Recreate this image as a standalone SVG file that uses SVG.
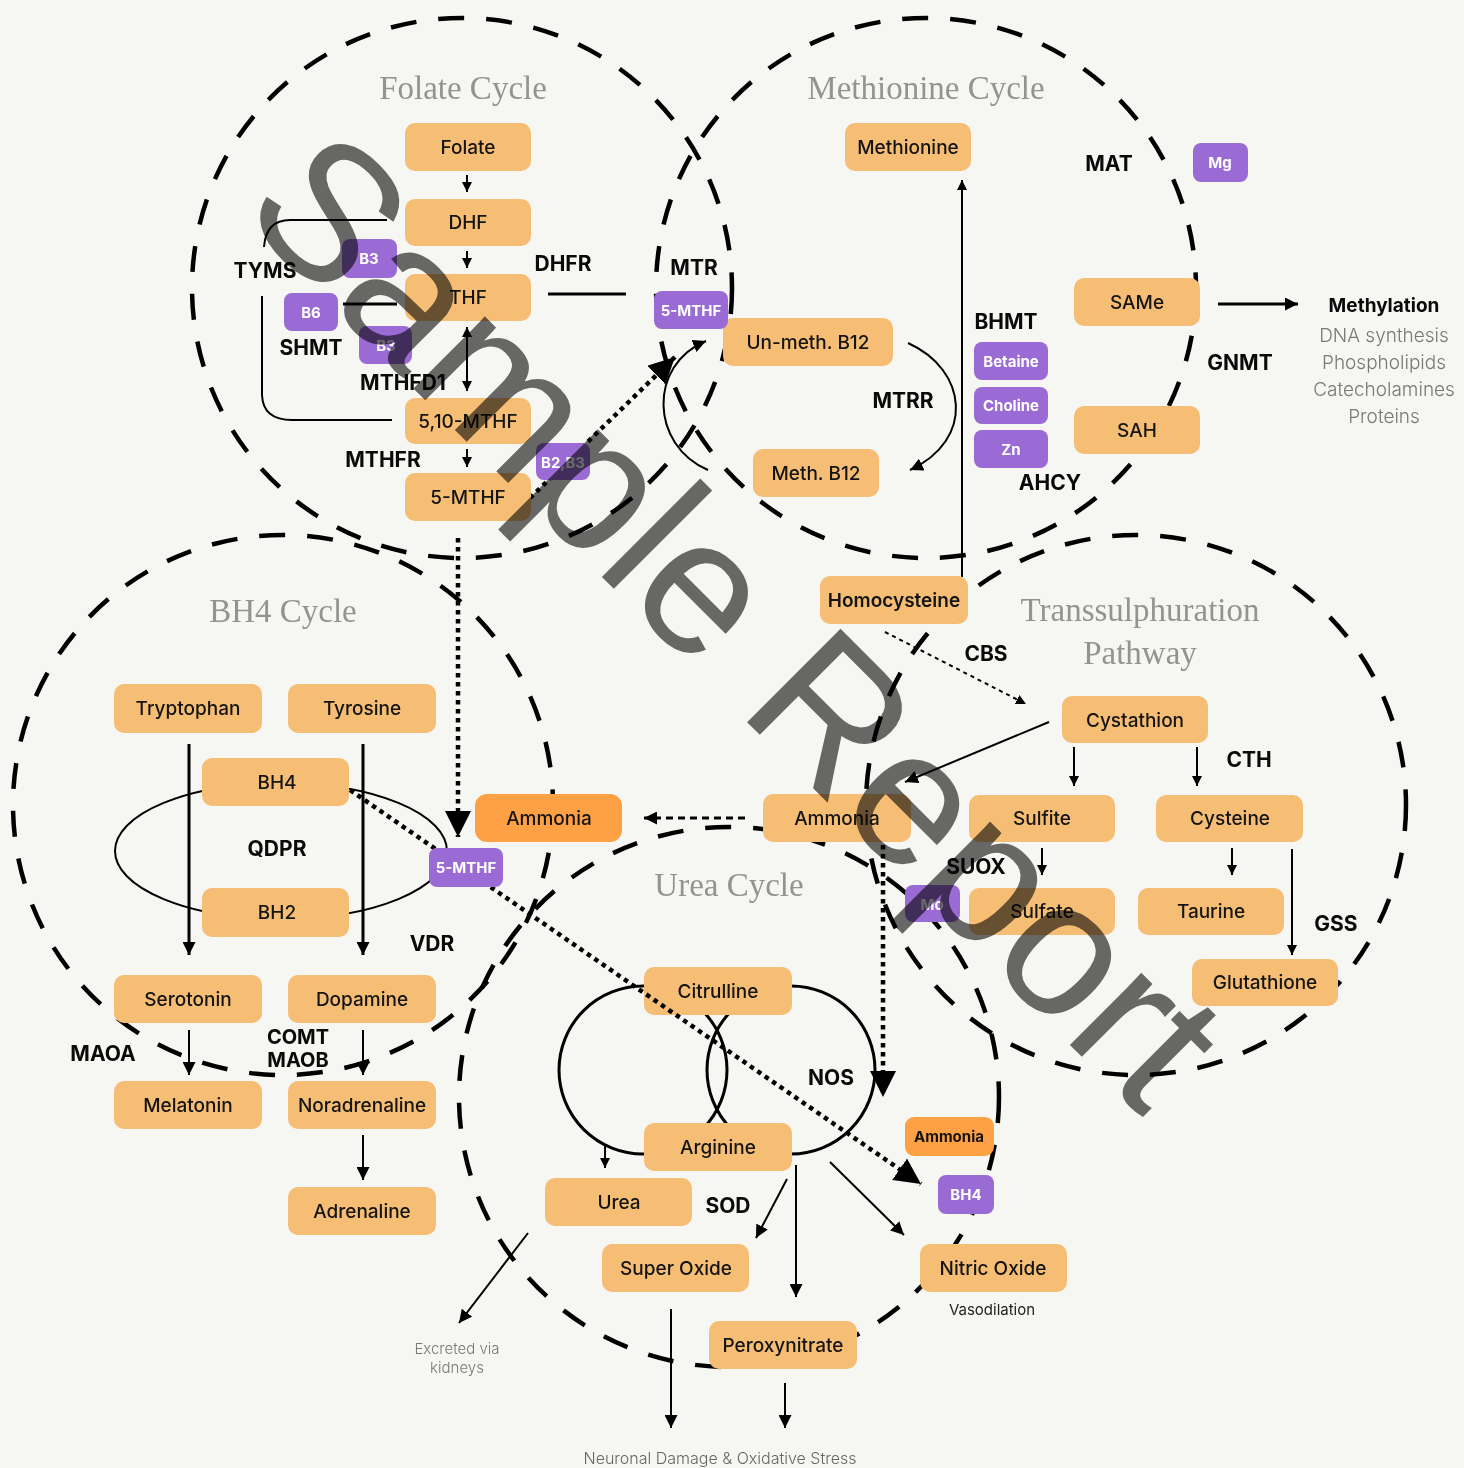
<svg xmlns="http://www.w3.org/2000/svg" width="1464" height="1468" viewBox="0 0 1464 1468">
<defs>
<style>
.cyc{fill:none;stroke:#000;stroke-width:4.5;stroke-dasharray:26 22}
.ttl{font-family:"Liberation Serif",serif;font-size:33px;fill:#939393;text-anchor:middle}
.n rect{fill:#f6be74}
.d rect{fill:#fea044}
.p rect{fill:#9a6bd5}
.n text,.d text{font-family:Inter,"Liberation Sans",sans-serif;font-size:19px;font-weight:500;fill:#141414;text-anchor:middle;dominant-baseline:central}
.p text{font-family:Inter,"Liberation Sans",sans-serif;font-size:15px;font-weight:700;fill:#fff;text-anchor:middle;dominant-baseline:central}
.enz{font-family:Inter,"Liberation Sans",sans-serif;font-size:21px;font-weight:700;fill:#0a0a0a;text-anchor:middle;dominant-baseline:central}
.note{font-family:Inter,"Liberation Sans",sans-serif;font-weight:300;fill:#787878;text-anchor:middle;dominant-baseline:central}
.ln{fill:none;stroke:#000;stroke-width:2}
.ln3{fill:none;stroke:#000;stroke-width:3}
.dot{fill:none;stroke:#000;stroke-width:4.5;stroke-dasharray:4.5 4.5}
</style>
<marker id="ah" viewBox="0 0 10 10" refX="10" refY="5" markerWidth="10" markerHeight="10" markerUnits="userSpaceOnUse" orient="auto-start-reverse"><path d="M0,0 L10,5 L0,10 z"/></marker>
<marker id="ahm" viewBox="0 0 10 10" refX="10" refY="5" markerWidth="13" markerHeight="13" markerUnits="userSpaceOnUse" orient="auto-start-reverse"><path d="M0,0 L10,5 L0,10 z"/></marker>
<marker id="big" viewBox="0 0 10 10" refX="10" refY="5" markerWidth="26" markerHeight="26" markerUnits="userSpaceOnUse" orient="auto"><path d="M0,0 L10,5 L0,10 z"/></marker>
</defs>
<rect width="1464" height="1468" fill="#f6f6f2"/>

<g id="cycles">
<circle class="cyc" cx="462" cy="288" r="270"/>
<circle class="cyc" cx="926" cy="288" r="270"/>
<circle class="cyc" cx="283" cy="805" r="270"/>
<circle class="cyc" cx="1136" cy="805" r="270"/>
<circle class="cyc" cx="729" cy="1097" r="270"/>
<text class="ttl" x="463" y="99">Folate Cycle</text>
<text class="ttl" x="926" y="99">Methionine Cycle</text>
<text class="ttl" x="283" y="622">BH4 Cycle</text>
<text class="ttl" x="1140" y="621">Transsulphuration</text>
<text class="ttl" x="1140" y="664">Pathway</text>
<text class="ttl" x="729" y="896">Urea Cycle</text>
</g>

<g id="connectors">
<path class="ln" d="M467,175 V192" marker-end="url(#ah)"/>
<path class="ln" d="M467,251 V268" marker-end="url(#ah)"/>
<path class="ln" d="M467,327 V391" marker-start="url(#ah)" marker-end="url(#ah)"/>
<path class="ln" d="M467,449 V467" marker-end="url(#ah)"/>
<path class="ln" d="M387,220 H290 Q266,220 264,247" stroke-width="2.5"/>
<path class="ln" d="M262,296 V395 Q263,420 292,420 H392" stroke-width="2.5"/>
<path class="ln3" d="M343,304 H397"/>
<path class="ln3" d="M548,294 H626"/>
<path class="dot" d="M530,498 L675,357" marker-end="url(#big)"/>
<path class="ln" d="M708,470 C650,445 648,365 706,341" marker-end="url(#ahm)"/>
<path class="ln" d="M908,343 C968,370 975,440 910,470" marker-end="url(#ahm)"/>
<path class="ln" d="M962,577 V180" marker-end="url(#ah)"/>
<path class="ln3" d="M1218,304 H1298" marker-end="url(#ahm)"/>
<path class="dot" d="M458,538 V837" marker-end="url(#big)"/>
<path class="ln3" d="M745,818 H644" stroke-dasharray="7 5" marker-end="url(#ahm)"/>
<path class="dot" d="M883,845 V1097" marker-end="url(#big)"/>
<path class="ln" d="M885,632 L1026,704" stroke-dasharray="4 4" marker-end="url(#ah)"/>
<path class="ln" d="M1049,722 L905,782" marker-end="url(#ahm)"/>
<path class="ln" d="M1074,747 V786" marker-end="url(#ah)"/>
<path class="ln" d="M1197,747 V786" marker-end="url(#ah)"/>
<path class="ln" d="M1042,848 V875" marker-end="url(#ah)"/>
<path class="ln" d="M1232,848 V875" marker-end="url(#ah)"/>
<path class="ln" d="M1292,849 V955" marker-end="url(#ah)"/>
<ellipse class="ln" cx="281" cy="851" rx="166" ry="68" stroke-width="2.5"/>
<path class="ln3" d="M189,744 V955" marker-end="url(#ahm)"/>
<path class="ln3" d="M363,744 V955" marker-end="url(#ahm)"/>
<path class="ln" d="M189,1030 V1075" marker-end="url(#ahm)"/>
<path class="ln" d="M363,1030 V1075" marker-end="url(#ahm)"/>
<path class="ln" d="M363,1135 V1180" marker-end="url(#ahm)"/>
<circle class="ln3" cx="643" cy="1070" r="84"/>
<circle class="ln3" cx="791" cy="1070" r="84"/>
<path class="ln" d="M605,1145 V1168" marker-end="url(#ah)"/>
<path class="ln" d="M787,1179 L756,1238" marker-end="url(#ahm)"/>
<path class="ln" d="M796,1165 V1297" marker-end="url(#ahm)"/>
<path class="ln" d="M830,1162 L904,1235" marker-end="url(#ahm)"/>
<path class="ln" d="M528,1233 L459,1323" marker-end="url(#ahm)"/>
<path class="ln" d="M671,1309 V1428" marker-end="url(#ahm)"/>
<path class="ln" d="M785,1383 V1428" marker-end="url(#ahm)"/>
</g>

<g id="folate" class="n"><rect x="405" y="123" width="126" height="48" rx="10"/><text x="468" y="147">Folate</text></g>
<g id="dhf" class="n"><rect x="405" y="199" width="126" height="47" rx="10"/><text x="468" y="222">DHF</text></g>
<g id="thf" class="n"><rect x="405" y="274" width="126" height="47" rx="10"/><text x="468" y="297">THF</text></g>
<g id="mthf510" class="n"><rect x="405" y="398" width="126" height="46" rx="10"/><text x="468" y="421">5,10-MTHF</text></g>
<g id="mthf5" class="n"><rect x="405" y="473" width="126" height="48" rx="10"/><text x="468" y="497">5-MTHF</text></g>
<g id="methionine" class="n"><rect x="845" y="123" width="126" height="48" rx="10"/><text x="908" y="147">Methionine</text></g>
<g id="unmethb12" class="n"><rect x="723" y="318" width="170" height="48" rx="10"/><text x="808" y="342">Un-meth. B12</text></g>
<g id="methb12" class="n"><rect x="753" y="449" width="126" height="48" rx="10"/><text x="816" y="473">Meth. B12</text></g>
<g id="same" class="n"><rect x="1074" y="278" width="126" height="48" rx="10"/><text x="1137" y="302">SAMe</text></g>
<g id="sah" class="n"><rect x="1074" y="406" width="126" height="48" rx="10"/><text x="1137" y="430">SAH</text></g>
<g id="homocysteine" class="n"><rect x="820" y="576" width="148" height="48" rx="10"/><text x="894" y="600" style="font-weight:600">Homocysteine</text></g>
<g id="tryptophan" class="n"><rect x="114" y="684" width="148" height="49" rx="10"/><text x="188" y="708">Tryptophan</text></g>
<g id="tyrosine" class="n"><rect x="288" y="684" width="148" height="49" rx="10"/><text x="362" y="708">Tyrosine</text></g>
<g id="bh4" class="n"><rect x="202" y="758" width="147" height="48" rx="10"/><text x="277" y="782">BH4</text></g>
<g id="bh2" class="n"><rect x="202" y="888" width="147" height="49" rx="10"/><text x="277" y="912">BH2</text></g>
<g id="serotonin" class="n"><rect x="114" y="975" width="148" height="48" rx="10"/><text x="188" y="999">Serotonin</text></g>
<g id="dopamine" class="n"><rect x="288" y="975" width="148" height="48" rx="10"/><text x="362" y="999">Dopamine</text></g>
<g id="melatonin" class="n"><rect x="114" y="1081" width="148" height="48" rx="10"/><text x="188" y="1105">Melatonin</text></g>
<g id="noradrenaline" class="n"><rect x="288" y="1081" width="148" height="48" rx="10"/><text x="362" y="1105">Noradrenaline</text></g>
<g id="adrenaline" class="n"><rect x="288" y="1187" width="148" height="48" rx="10"/><text x="362" y="1211">Adrenaline</text></g>
<g id="ammonia1" class="d"><rect x="475" y="794" width="147" height="48" rx="12"/><text x="549" y="818">Ammonia</text></g>
<g id="ammonia2" class="n"><rect x="763" y="794" width="148" height="48" rx="10"/><text x="837" y="818">Ammonia</text></g>
<g id="cystathion" class="n"><rect x="1062" y="696" width="146" height="47" rx="10"/><text x="1135" y="720">Cystathion</text></g>
<g id="sulfite" class="n"><rect x="969" y="795" width="146" height="47" rx="10"/><text x="1042" y="818">Sulfite</text></g>
<g id="cysteine" class="n"><rect x="1156" y="795" width="147" height="47" rx="10"/><text x="1230" y="818">Cysteine</text></g>
<g id="sulfate" class="n"><rect x="969" y="888" width="146" height="47" rx="10"/><text x="1042" y="911">Sulfate</text></g>
<g id="taurine" class="n"><rect x="1138" y="888" width="146" height="47" rx="10"/><text x="1211" y="911">Taurine</text></g>
<g id="glutathione" class="n"><rect x="1192" y="959" width="146" height="47" rx="10"/><text x="1265" y="982">Glutathione</text></g>
<g id="citrulline" class="n"><rect x="644" y="967" width="148" height="48" rx="10"/><text x="718" y="991">Citrulline</text></g>
<g id="arginine" class="n"><rect x="644" y="1123" width="148" height="48" rx="10"/><text x="718" y="1147">Arginine</text></g>
<g id="urea" class="n"><rect x="545" y="1178" width="147" height="48" rx="10"/><text x="619" y="1202">Urea</text></g>
<g id="superoxide" class="n"><rect x="602" y="1244" width="147" height="48" rx="10"/><text x="676" y="1268">Super Oxide</text></g>
<g id="peroxynitrate" class="n"><rect x="709" y="1321" width="148" height="48" rx="10"/><text x="783" y="1345">Peroxynitrate</text></g>
<g id="nitricoxide" class="n"><rect x="920" y="1244" width="147" height="48" rx="10"/><text x="993" y="1268">Nitric Oxide</text></g>
<g id="ammonia3" class="d"><rect x="905" y="1117" width="89" height="39" rx="9"/><text x="949" y="1136" style="font-size:15px;font-weight:700">Ammonia</text></g>

<g id="connectors-over">
<path class="dot" d="M350,790 L921,1184" marker-end="url(#big)"/>
</g>

<g id="b3a" class="p"><rect x="342" y="239" width="55" height="39" rx="8"/><text x="369" y="258">B3</text></g>
<g id="b6" class="p"><rect x="284" y="293" width="54" height="38" rx="8"/><text x="311" y="312">B6</text></g>
<g id="b3b" class="p"><rect x="359" y="326" width="53" height="38" rx="8"/><text x="386" y="345">B3</text></g>
<g id="b2b3" class="p"><rect x="536" y="443" width="54" height="37" rx="8"/><text x="563" y="462">B2,B3</text></g>
<g id="mthf-mtr" class="p"><rect x="654" y="291" width="74" height="38" rx="8"/><text x="691" y="310">5-MTHF</text></g>
<g id="mg" class="p"><rect x="1193" y="143" width="55" height="39" rx="8"/><text x="1220" y="162">Mg</text></g>
<g id="betaine" class="p"><rect x="974" y="342" width="74" height="38" rx="8"/><text x="1011" y="361">Betaine</text></g>
<g id="choline" class="p"><rect x="974" y="387" width="74" height="37" rx="8"/><text x="1011" y="405">Choline</text></g>
<g id="zn" class="p"><rect x="974" y="430" width="74" height="38" rx="8"/><text x="1011" y="449">Zn</text></g>
<g id="mthf-bh4" class="p"><rect x="429" y="848" width="74" height="39" rx="8"/><text x="466" y="867">5-MTHF</text></g>
<g id="mo" class="p"><rect x="905" y="885" width="55" height="37" rx="8"/><text x="932" y="904">Mo</text></g>
<g id="bh4p" class="p"><rect x="938" y="1175" width="56" height="39" rx="8"/><text x="966" y="1194">BH4</text></g>

<g id="labels">
<text class="enz" x="265" y="270">TYMS</text>
<text class="enz" x="311" y="347">SHMT</text>
<text class="enz" x="403" y="382">MTHFD1</text>
<text class="enz" x="383" y="459">MTHFR</text>
<text class="enz" x="563" y="263">DHFR</text>
<text class="enz" x="694" y="267">MTR</text>
<text class="enz" x="903" y="400">MTRR</text>
<text class="enz" x="1109" y="163">MAT</text>
<text class="enz" x="1006" y="321">BHMT</text>
<text class="enz" x="1240" y="362">GNMT</text>
<text class="enz" x="1050" y="482">AHCY</text>
<text class="enz" x="986" y="653">CBS</text>
<text class="enz" x="1249" y="759">CTH</text>
<text class="enz" x="976" y="866">SUOX</text>
<text class="enz" x="1336" y="923">GSS</text>
<text class="enz" x="277" y="848">QDPR</text>
<text class="enz" x="432" y="943">VDR</text>
<text class="enz" x="103" y="1053">MAOA</text>
<text class="enz" x="298" y="1037" style="font-size:20px">COMT</text>
<text class="enz" x="298" y="1060" style="font-size:20px">MAOB</text>
<text class="enz" x="831" y="1077">NOS</text>
<text class="enz" x="728" y="1205">SOD</text>
<text class="enz" x="1384" y="305" style="font-size:19px">Methylation</text>
<text class="note" x="1384" y="335" style="font-size:19px">DNA synthesis</text>
<text class="note" x="1384" y="362" style="font-size:19px">Phospholipids</text>
<text class="note" x="1384" y="389" style="font-size:19px">Catecholamines</text>
<text class="note" x="1384" y="416" style="font-size:19px">Proteins</text>
<text class="note" x="457" y="1348" style="font-size:15px">Excreted via</text>
<text class="note" x="457" y="1367" style="font-size:15px">kidneys</text>
<text class="note" x="720" y="1458" style="font-size:16px;fill:#666">Neuronal Damage &amp; Oxidative Stress</text>
<text class="note" x="992" y="1309" style="font-size:15px;fill:#222;font-weight:400">Vasodilation</text>
</g>

<text id="watermark" transform="translate(238,213) rotate(45)" font-family="'Liberation Sans',Arial,sans-serif" font-size="192" fill="#6b6b6b" style="mix-blend-mode:multiply">Sample Report</text>
</svg>
